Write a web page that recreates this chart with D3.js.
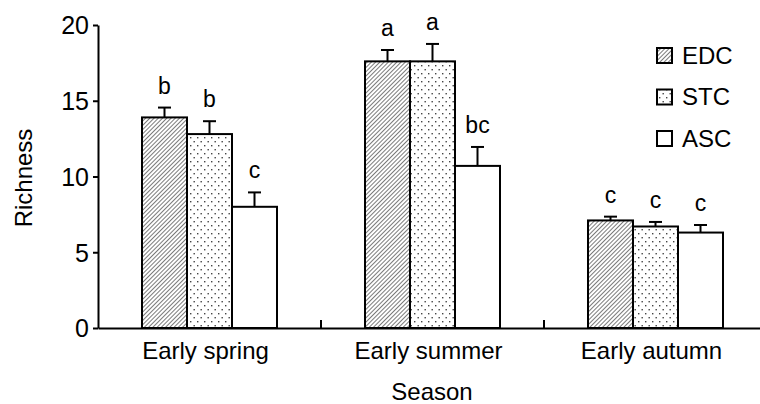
<!DOCTYPE html>
<html>
<head>
<meta charset="utf-8">
<script src="https://cdn.jsdelivr.net/npm/d3@7"></script>
<style>
  html, body { margin: 0; padding: 0; background: #fff; }
  svg { display: block; }
  text { font-family: "Liberation Sans", Arial, Helvetica, sans-serif; fill: #000; }
</style>
</head>
<body>
<svg id="chart" width="760" height="404"></svg>
<script>
const seasons = ["Early spring", "Early summer", "Early autumn"];
const seriesNames = ["EDC", "STC", "ASC"];
const meanEDC = [13.9, 17.6, 7.1];
const meanSTC = [12.8, 17.6, 6.7];
const meanASC = [8.0, 10.7, 6.3];
const errEDC = [0.65, 0.75, 0.25];
const errSTC = [0.85, 1.15, 0.3];
const errASC = [0.95, 1.25, 0.5];
const lettersEDC = ["b", "a", "c"];
const lettersSTC = ["b", "a", "c"];
const lettersASC = ["c", "bc", "c"];
const yTicks = [0, 5, 10, 15, 20];

const means = {EDC: meanEDC, STC: meanSTC, ASC: meanASC};
const errs = {EDC: errEDC, STC: errSTC, ASC: errASC};
const letters = {EDC: lettersEDC, STC: lettersSTC, ASC: lettersASC};

const svg = d3.select("#chart");
const defs = svg.append("defs");

// hatch pattern
const hatch = defs.append("pattern").attr("id", "hatch")
  .attr("patternUnits", "userSpaceOnUse").attr("width", 3).attr("height", 3)
  .attr("patternTransform", "rotate(45)");
hatch.append("rect").attr("width", 3).attr("height", 3).attr("fill", "#fff");
hatch.append("line").attr("x1", 0).attr("y1", 0).attr("x2", 0).attr("y2", 3)
  .attr("stroke", "#333").attr("stroke-width", 1.3);

// dot pattern
const dots = defs.append("pattern").attr("id", "dots")
  .attr("patternUnits", "userSpaceOnUse").attr("width", 7).attr("height", 8);
dots.append("rect").attr("width", 7).attr("height", 8).attr("fill", "#fff");
dots.append("rect").attr("x", 1).attr("y", 1).attr("width", 1.4).attr("height", 1.4).attr("fill", "#444");
dots.append("rect").attr("x", 4.5).attr("y", 5).attr("width", 1.4).attr("height", 1.4).attr("fill", "#444");

const fills = {EDC: "url(#hatch)", STC: "url(#dots)", ASC: "#fff"};

const x0 = d3.scaleBand().domain(seasons).range([98, 767]).paddingInner(0).paddingOuter(0);
const x1 = d3.scaleBand().domain(seriesNames).range([44, 179]).padding(0);
const y = d3.scaleLinear().domain([0, 20]).range([328, 25]);

// bars
seriesNames.forEach(s => {
  const g = svg.append("g");
  seasons.forEach((season, i) => {
    const bx = x0(season) + x1(s);
    const bw = x1.bandwidth();
    const cx = bx + bw / 2;
    const top = y(means[s][i]);
    const etop = y(means[s][i] + errs[s][i]);
    g.append("line").attr("x1", cx).attr("x2", cx).attr("y1", top).attr("y2", etop)
      .attr("stroke", "#000").attr("stroke-width", 2);
    g.append("line").attr("x1", cx - 6.5).attr("x2", cx + 6.5).attr("y1", etop).attr("y2", etop)
      .attr("stroke", "#000").attr("stroke-width", 2);
    g.append("rect").attr("x", bx).attr("y", top).attr("width", bw).attr("height", y(0) - top)
      .attr("fill", fills[s]).attr("stroke", "#000").attr("stroke-width", 2);
    g.append("text").attr("x", cx).attr("y", etop - 14).attr("text-anchor", "middle")
      .attr("font-size", 23).text(letters[s][i]);
  });
});

// y axis
const yAxis = d3.axisLeft(y).tickValues(yTicks).tickSize(5).tickPadding(4).tickSizeOuter(0);
const gy = svg.append("g").attr("transform", "translate(98,0)").call(yAxis);
gy.select(".domain").attr("stroke", "#000").attr("stroke-width", 2);
gy.selectAll(".tick line").attr("stroke", "#000").attr("stroke-width", 2);
gy.selectAll(".tick text").attr("font-size", 25).attr("font-family", "Liberation Sans, Arial, sans-serif").attr("dy", "0.35em");

// x axis
const xAxis = d3.axisBottom(x0).tickSize(0).tickPadding(0).tickSizeOuter(0);
const gx = svg.append("g").attr("transform", "translate(0,328)").call(xAxis);
gx.select(".domain").attr("stroke", "#000").attr("stroke-width", 2);
gx.selectAll(".tick text").attr("font-size", 24).attr("font-family", "Liberation Sans, Arial, sans-serif")
  .attr("dy", 0).attr("y", 31).attr("x", -4);
const bounds = seasons.slice(1).map(s => x0(s));
svg.append("g").selectAll("line").data(bounds).join("line")
  .attr("x1", d => d).attr("x2", d => d).attr("y1", y(0)).attr("y2", y(0) - 8)
  .attr("stroke", "#000").attr("stroke-width", 2);

// axis titles
svg.append("text").attr("x", 432).attr("y", 400).attr("text-anchor", "middle")
  .attr("font-size", 24).text("Season");
svg.append("text").attr("transform", "translate(32,178) rotate(-90)").attr("text-anchor", "middle")
  .attr("font-size", 24).text("Richness");

// legend
const legend = svg.append("g");
seriesNames.forEach((s, i) => {
  const ly = 48 + i * 41.5;
  legend.append("rect").attr("x", 657).attr("y", ly).attr("width", 15).attr("height", 15)
    .attr("fill", fills[s]).attr("stroke", "#000").attr("stroke-width", 2);
  legend.append("text").attr("x", 682).attr("y", ly + 15.5).attr("font-size", 24).text(s);
});
</script>
</body>
</html>
